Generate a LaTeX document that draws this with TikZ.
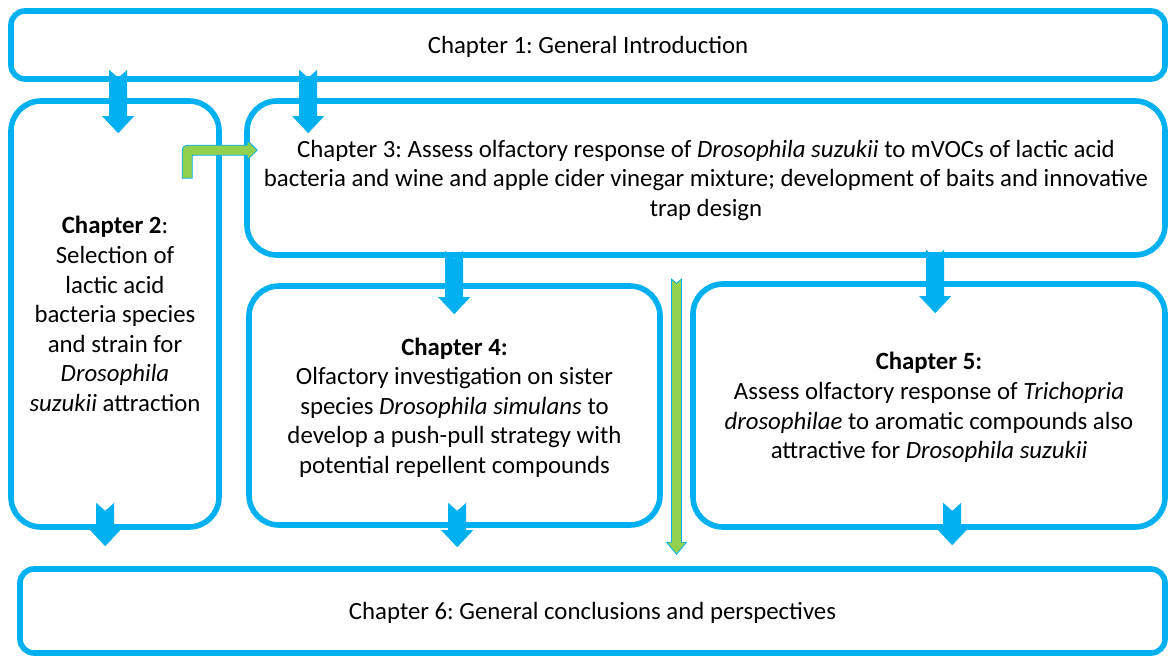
\documentclass[tikz,border=0pt]{standalone}
\usepackage{fontspec}
\setmainfont{Carlito}
\frenchspacing
\usetikzlibrary{calc}

\definecolor{ltblue}{RGB}{0,176,240}
\definecolor{ltgreen}{RGB}{146,208,80}

\tikzset{
	chapbox/.style={draw=ltblue, line width=2.8pt, rounded corners=15pt, align=center, inner sep=0pt, text depth=0pt, font=\fontsize{12.4}{14.8}\selectfont},
	flatbox/.style={chapbox, rounded corners=7pt},
	blockarr/.style n args={4}{to path={
		let \p1=(\tikztostart), \p2=(\tikztotarget) in
		(\x1-#1,\y1) -- (\x1,\y1-#4) -- (\x1+#1,\y1) -- (\x1+#1,\y2+#3) -- (\x1+#2,\y2+#3)
		-- (\x1,\y2) -- (\x1-#2,\y2+#3) -- (\x1-#1,\y2+#3) -- cycle}},
	bluearr/.style={fill=ltblue, blockarr={4.5pt}{8pt}{8.5pt}{4pt}},
	greenarr/.style={fill=ltgreen, draw=ltblue, line width=0.4pt, blockarr={2.5pt}{5pt}{6pt}{2pt}}
}

\begin{document}
\begin{tikzpicture}[x=0.5pt, y=-0.5pt]
	\useasboundingbox (0,0) rectangle (1170,658);
	% chapters
	\node[flatbox, minimum width=577pt, minimum height=34pt] (intro) at (588,45) {Chapter 1: General Introduction};
	\node[chapbox, minimum width=104pt, minimum height=213pt] (ch2) at (115,314)
		{\textbf{Chapter 2}:\\ Selection of\\ lactic acid\\ bacteria species\\ and strain for\\ \textit{Drosophila}\\ \textit{suzukii} attraction};
	\node[chapbox, minimum width=459pt, minimum height=77pt] (ch3) at (706,178)
		{Chapter 3: Assess olfactory response of \textit{Drosophila suzukii} to mVOCs of lactic acid\\ bacteria and wine and apple cider vinegar mixture; development of baits and innovative\\ trap design};
	\node[chapbox, minimum width=205.5pt, minimum height=119.5pt] (ch4) at (454.5,405.5)
		{\textbf{Chapter 4:}\\ Olfactory investigation on sister\\ species \textit{Drosophila simulans} to\\ develop a push-pull strategy with\\ potential repellent compounds};
	\node[chapbox, minimum width=236pt, minimum height=121.5pt] (ch5) at (929,405.5)
		{\textbf{Chapter 5:}\\ Assess olfactory response of \textit{Trichopria}\\ \textit{drosophilae} to aromatic compounds also\\ attractive for \textit{Drosophila suzukii}};
	\node[flatbox, minimum width=572.5pt, minimum height=42pt] (concl) at (592.5,611) {Chapter 6: General conclusions and perspectives};
	% blue arrows
	\path[bluearr] ($(intro.south west)+(110,-12)$) to ($(ch2.north west)+(110,35)$);
	\path[bluearr] ($(intro.south west)+(300,-12)$) to ($(ch3.north west)+(64,35)$);
	\path[bluearr] ($(ch3.south west)+(210,-7)$) to ($(ch4.north west)+(208,31)$);
	\path[bluearr] ($(ch3.south west)+(691,-8)$) to ($(ch5.north west)+(245,32)$);
	\path[bluearr] ($(ch2.south west)+(97,-27)$) to ($(concl.north west)+(88,-20)$);
	\path[bluearr] ($(ch4.south west)+(211,-25)$) to ($(concl.north west)+(440,-19)$);
	\path[bluearr] ($(ch5.south west)+(262,-27)$) to ($(concl.north west)+(935,-21)$);
	% green arrows
	\path[greenarr] ($(ch4.north east)!0.5!(ch5.north west)+(0,-3)$) to ($(concl.north)+(84.5,-12)$);
	\fill[ltgreen, draw=ltblue, line width=0.4pt, shift={(ch3.north west)}]
		(-62,80) -- (-62,59) .. controls (-62,47) .. (-50,47) -- (3,47) -- (3,42) -- (13,52) -- (3,62)
		-- (3,57) -- (-50,57) .. controls (-52,57) .. (-52,59) -- (-52,80) -- cycle;
\end{tikzpicture}
\end{document}
